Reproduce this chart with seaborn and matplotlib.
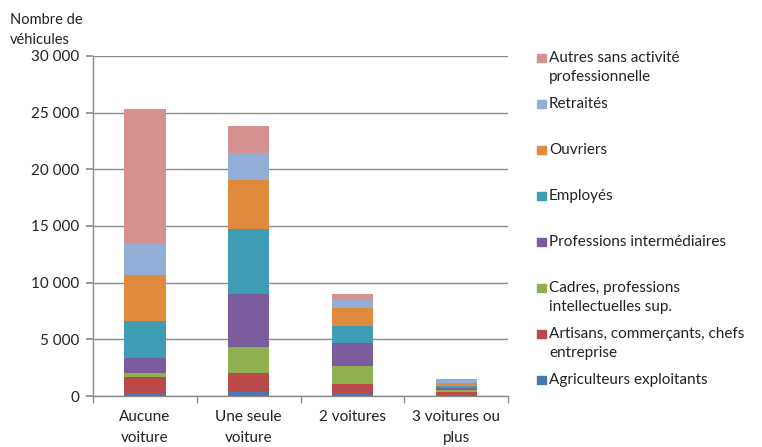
import numpy as np
import pandas as pd
import matplotlib
matplotlib.use("Agg")
import matplotlib.pyplot as plt
from matplotlib.patches import Rectangle
import seaborn as sns

# Households grouped by number of cars, split by socio-professional category
categories = ["Aucune\nvoiture", "Une seule\nvoiture", "2 voitures", "3 voitures ou\nplus"]

agriculteurs = [250, 380, 240, 80]
artisans = [1400, 1620, 790, 290]
cadres = [350, 2350, 1620, 120]
prof_intermediaires = [1380, 4650, 2050, 200]
employes = [3260, 5730, 1470, 230]
ouvriers = [4030, 4320, 1560, 260]
retraites = [2730, 2350, 800, 230]
autres = [11900, 2440, 440, 90]

series_names = [
    "Agriculteurs exploitants",
    "Artisans, commerçants, chefs\nentreprise",
    "Cadres, professions\nintellectuelles sup.",
    "Professions intermédiaires",
    "Employés",
    "Ouvriers",
    "Retraités",
    "Autres sans activité\nprofessionnelle",
]
series_values = [agriculteurs, artisans, cadres, prof_intermediaires,
                 employes, ouvriers, retraites, autres]
colors = ["#4A76B0", "#B94A48", "#8FB04E", "#7A5B9C",
          "#3F9CB5", "#E08A3C", "#93AED6", "#D4918F"]

y_ticks = [0, 5000, 10000, 15000, 20000, 25000, 30000]

sns.set_theme(style="white")
plt.rcParams["font.family"] = ["Lato", "DejaVu Sans"]

fig = plt.figure(figsize=(7.62, 4.47), dpi=100)
ax = fig.add_axes([0.122, 0.114, 0.545, 0.761])

# Stacked bars: draw cumulative totals from the top segment down
df = pd.DataFrame({name: vals for name, vals in zip(series_names, series_values)},
                  index=categories)
cum = df.cumsum(axis=1)
for name, color in reversed(list(zip(series_names, colors))):
    sns.barplot(x=list(categories), y=cum[name].values, color=color,
                width=0.4, saturation=1, linewidth=0, edgecolor="none",
                ax=ax, zorder=3)

ax.set_ylim(0, 30000)
ax.set_xlim(-0.5, 3.5)
ax.set_yticks(y_ticks)
ax.set_yticklabels([f"{v:,}".replace(",", " ") for v in y_ticks], fontsize=11,
                   color="#222222")
ax.yaxis.grid(True, color="#8c8c8c", linewidth=1.0, zorder=0)
ax.set_axisbelow(True)

ax.set_xticks(range(len(categories)))
ax.set_xticklabels(categories, fontsize=11, color="#222222", linespacing=1.6)
ax.set_xticks([-0.5, 0.5, 1.5, 2.5, 3.5], minor=True)
ax.tick_params(axis="x", which="major", length=0, pad=10)
ax.tick_params(axis="x", which="minor", length=5, color="#8c8c8c", direction="out",
               bottom=True)
ax.tick_params(axis="y", length=5, color="#8c8c8c", direction="out", left=True, pad=5)

for side in ["top", "right"]:
    ax.spines[side].set_visible(False)
for side in ["left", "bottom"]:
    ax.spines[side].set_color("#8c8c8c")
    ax.spines[side].set_linewidth(1.0)
ax.set_xlabel("")
ax.set_ylabel("")

fig.text(10 / 762, 1 - 30 / 447, "Nombre de\nvéhicules", fontsize=10.5,
         color="#222222", ha="left", va="center", linespacing=1.55)

# Legend entries from the top series to the bottom one
legend_y = [58, 104, 150, 196, 242, 288, 334, 380]
for y, name, color in zip(legend_y, reversed(series_names), reversed(colors)):
    fig.patches.append(Rectangle((537 / 762, 1 - (y + 4) / 447), 9 / 762, 8 / 447,
                                 transform=fig.transFigure, color=color))
    fig.text(549 / 762, 1 - (y - 7) / 447, name, fontsize=11, color="#222222",
             ha="left", va="top", linespacing=1.45,
             transform=fig.transFigure)

fig.savefig("out.png", dpi=100)
